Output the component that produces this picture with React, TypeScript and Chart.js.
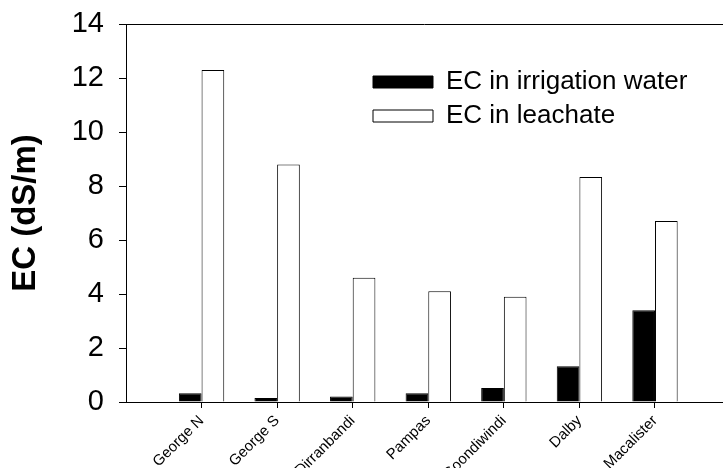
import React, { useEffect, useRef } from "react";
import { Chart, registerables } from "chart.js";

Chart.register(...registerables);

const categories = ["George N", "George S", "Dirranbandi", "Pampas", "Goondiwindi", "Dalby", "Macalister"];
const irrigationEC = [0.32, 0.15, 0.2, 0.32, 0.52, 1.32, 3.4];
const leachateEC = [12.3, 8.8, 4.6, 4.1, 3.9, 8.33, 6.7];
const yTickValues = [0, 2, 4, 6, 8, 10, 12, 14];
const seriesNames = ["EC in irrigation water", "EC in leachate"];
const yTitle = "EC (dS/m)";

const FONT = "'Liberation Sans', Arial, Helvetica, sans-serif";

export default function App() {
  const ref = useRef<HTMLCanvasElement>(null);

  useEffect(() => {
    if (!ref.current) return;

    const topFrame = {
      id: "topFrame",
      afterDatasetsDraw(chart: any) {
        const { ctx, chartArea } = chart;
        ctx.save();
        ctx.strokeStyle = "#000";
        ctx.lineWidth = 1;
        ctx.beginPath();
        ctx.moveTo(chartArea.left, Math.round(chartArea.top) + 0.5);
        ctx.lineTo(chartArea.right, Math.round(chartArea.top) + 0.5);
        ctx.stroke();
        ctx.restore();
      },
    };

    const legendPlacer = {
      id: "legendPlacer",
      afterLayout(chart: any) {
        const lg = chart.legend;
        if (!lg) return;
        const w = lg.width;
        const h = lg.height;
        lg.left = chart.chartArea.left + 239;
        lg.top = chart.chartArea.top + 37;
        lg.right = lg.left + w;
        lg.bottom = lg.top + h;
      },
    };

    const chart = new Chart(ref.current, {
      type: "bar",
      data: {
        datasets: [
          {
            label: seriesNames[0],
            data: categories.map((_, i) => ({ x: i, y: irrigationEC[i] })),
            backgroundColor: "#000",
            borderColor: "#000",
            borderWidth: 1,
          },
          {
            label: seriesNames[1],
            data: categories.map((_, i) => ({ x: i, y: leachateEC[i] })),
            backgroundColor: "#fff",
            borderColor: "#000",
            borderWidth: 1,
          },
        ],
      },
      options: {
        responsive: false,
        animation: false,
        devicePixelRatio: 1,
        layout: { padding: { top: 24, right: 0, left: 0, bottom: 0 } },
        datasets: {
          bar: { categoryPercentage: 0.6, barPercentage: 1.0 },
        },
        plugins: {
          tooltip: { enabled: false },
          legend: {
            position: "chartArea",
            align: "start",
            labels: {
              boxWidth: 60,
              boxHeight: 12,
              padding: 8,
              color: "#000",
              font: { family: FONT, size: 26 },
            },
          },
        },
        scales: {
          x: {
            type: "linear",
            min: -1,
            max: 6.9,
            offset: false,
            afterBuildTicks: (scale: any) => {
              scale.ticks = categories.map((_, i) => ({ value: i }));
            },
            afterFit: (scale: any) => {
              scale.height = 66;
              scale.paddingLeft = 0;
              scale.paddingRight = 0;
            },
            grid: {
              offset: false,
              drawOnChartArea: false,
              drawTicks: true,
              tickLength: 6,
              tickColor: "#000",
            },
            border: { display: true, color: "#000", width: 1 },
            ticks: {
              autoSkip: false,
              minRotation: 45,
              maxRotation: 45,
              padding: 4,
              color: "#000",
              font: { family: FONT, size: 15 },
              callback: (v: any) => categories[v as number] ?? "",
            },
          },
          y: {
            type: "linear",
            min: 0,
            max: 14,
            afterBuildTicks: (scale: any) => {
              scale.ticks = yTickValues.map((v) => ({ value: v }));
            },
            afterFit: (scale: any) => {
              scale.width = 126;
              scale.paddingTop = 0;
              scale.paddingBottom = 0;
            },
            grid: {
              drawOnChartArea: false,
              drawTicks: true,
              tickLength: 7,
              tickColor: "#000",
            },
            border: { display: true, color: "#000", width: 1 },
            ticks: {
              padding: 15,
              color: "#000",
              font: { family: FONT, size: 29 },
            },
            title: {
              display: true,
              text: yTitle,
              color: "#000",
              padding: { top: 6, bottom: 0 },
              font: { family: FONT, size: 33, weight: "bold" },
            },
          },
        },
      },
      plugins: [topFrame, legendPlacer],
    });

    return () => chart.destroy();
  }, []);

  return (
    <div style={{ position: "absolute", left: 0, top: 0, width: 723, height: 468, background: "#fff" }}>
      <canvas ref={ref} width={723} height={468} style={{ display: "block", width: 723, height: 468 }} />
    </div>
  );
}
